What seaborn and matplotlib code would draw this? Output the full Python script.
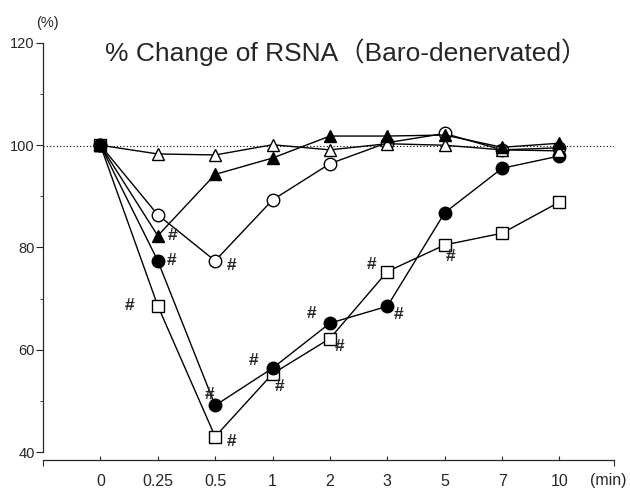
import matplotlib
matplotlib.use("Agg")
import matplotlib.pyplot as plt
import numpy as np
import pandas as pd
import seaborn as sns

# time points (categorical x axis, min)
time_labels = ["0", "0.25", "0.5", "1", "2", "3", "5", "7", "10"]

# % change of RSNA per group
open_square = [100, 68.6, 43.0, 55.3, 62.2, 75.3, 80.5, 82.8, 88.9]
open_circle = [100, 86.4, 77.4, 89.3, 96.4, 100.5, 102.3, 99.1, 99.5]
filled_circle = [100, 77.4, 49.1, 56.4, 65.2, 68.5, 86.8, 95.5, 97.9]
open_triangle = [100, 98.3, 98.1, 100.1, 99.1, 100.3, 100.0, 99.1, 98.9]
filled_triangle = [100, 82.3, 94.3, 97.5, 101.8, 101.8, 102.0, 99.6, 100.4]

# indices of time points marked "#" for each group
sig_open_square = [1, 2, 3, 4, 5, 6]
sig_open_circle = [2]
sig_filled_circle = [1, 2, 3, 4, 5]
sig_filled_triangle = [1]

# (marker, face colour, "#" offsets in pixels per significant point)
styles = {
    "open_square": ("s", "white", {1: (-28, 0), 2: (16, -5), 3: (7, -13), 4: (10, -8), 5: (-16, 7), 6: (6, -12)}),
    "open_circle": ("o", "white", {2: (16, -5)}),
    "filled_circle": ("o", "black", {1: (14, 0), 2: (-6, 11), 3: (-19, 8), 4: (-18, 10), 5: (11, -8)}),
    "open_triangle": ("^", "white", {}),
    "filled_triangle": ("^", "black", {1: (15, 0)}),
}

series = {
    "open_square": (open_square, sig_open_square),
    "open_circle": (open_circle, sig_open_circle),
    "filled_circle": (filled_circle, sig_filled_circle),
    "open_triangle": (open_triangle, []),
    "filled_triangle": (filled_triangle, sig_filled_triangle),
}

rows = []
for name, (vals, _) in series.items():
    for i, v in enumerate(vals):
        rows.append({"group": name, "pos": i, "time": time_labels[i], "value": v})
df = pd.DataFrame(rows)

sns.set_style("ticks")
plt.rcParams["font.family"] = ["Liberation Sans", "Noto Sans CJK JP", "DejaVu Sans"]

fig = plt.figure(figsize=(6.3, 4.88), dpi=100)
ax = fig.add_axes([43 / 630, 1 - 452 / 488, (614 - 43) / 630, (452 - 43) / 488])

ax.axhline(99.9, color="black", linestyle=(0, (1, 2)), linewidth=0.8, zorder=1)

for name, (vals, sig) in series.items():
    marker, face, offsets = styles[name]
    sub = df[df["group"] == name]
    sns.lineplot(data=sub, x="pos", y="value", ax=ax, color="black", linewidth=1.0,
                 marker=marker, markersize=9, markerfacecolor=face,
                 markeredgecolor="black", markeredgewidth=1.0, zorder=3)
    for i in sig:
        dx, dy = offsets[i]
        ax.annotate("#", (i, vals[i]), xytext=(dx * 0.72, dy * 0.72), textcoords="offset points",
                    ha="center", va="center", fontsize=12.5, fontweight="bold", zorder=4)

ax.set_xlim(-1.0, 8.95)
ax.set_ylim(40, 120)
ax.set_xticks(np.arange(len(time_labels)))
ax.set_xticklabels(time_labels)
ax.set_xticks([-1.0, 8.95], minor=True)
ax.set_yticks([40, 60, 80, 100, 120])
ax.set_yticks([50, 70, 90, 110], minor=True)
ax.tick_params(axis="x", which="major", direction="in", length=3, pad=10, labelsize=11.5, width=0.8)
ax.tick_params(axis="x", which="minor", direction="out", length=4, width=0.8)
ax.tick_params(axis="y", which="major", direction="out", length=5, pad=1, labelsize=10.5, width=0.8)
ax.tick_params(axis="y", which="minor", direction="out", length=2, width=0.6)
ax.set_xlabel("")
ax.set_ylabel("")

sns.despine(ax=ax)
ax.spines["bottom"].set_position(("outward", 6))
ax.spines["left"].set_linewidth(0.9)
ax.spines["bottom"].set_linewidth(0.9)

fig.text(47 / 630, 1 - 23 / 488, "(%)", ha="center", va="center", fontsize=10.5)
fig.text(608 / 630, 1 - 480 / 488, "(min)", ha="center", va="center", fontsize=11.5)
fig.text(105 / 630, 1 - 52 / 488, "% Change of RSNA（Baro-denervated）", ha="left", va="center",
         fontsize=19)

fig.savefig("out.png", dpi=100)
